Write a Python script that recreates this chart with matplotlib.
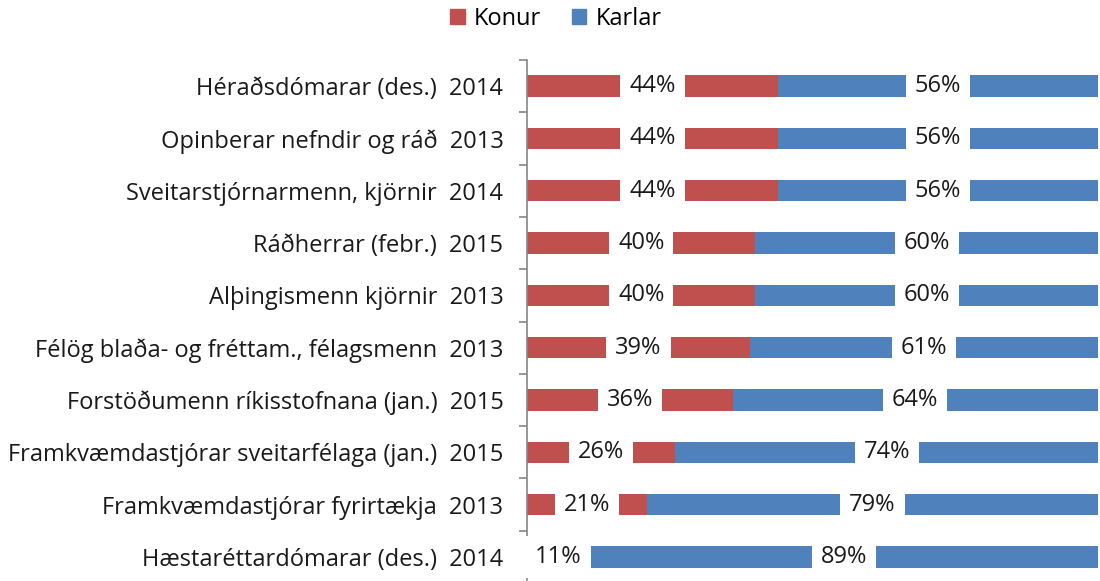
import numpy as np
import matplotlib.pyplot as plt
from matplotlib.patches import Patch

plt.rcParams['font.family'] = ['Open Sans', 'DejaVu Sans']

# Categories top to bottom, with year of the figures
categories = [
    "Héraðsdómarar (des.)",
    "Opinberar nefndir og ráð",
    "Sveitarstjórnarmenn, kjörnir",
    "Ráðherrar (febr.)",
    "Alþingismenn kjörnir",
    "Félög blaða- og fréttam., félagsmenn",
    "Forstöðumenn ríkisstofnana (jan.)",
    "Framkvæmdastjórar sveitarfélaga (jan.)",
    "Framkvæmdastjórar fyrirtækja",
    "Hæstaréttardómarar (des.)",
]
years = ["2014", "2013", "2014", "2015", "2013", "2013", "2015", "2015", "2013", "2014"]
konur = [44, 44, 44, 40, 40, 39, 36, 26, 21, 11]
karlar = [56, 56, 56, 60, 60, 61, 64, 74, 79, 89]

red = "#C0504D"
blue = "#4F81BD"
grey = "#868686"
fs = 17

fig = plt.figure(figsize=(11, 5.81), dpi=100)
ax = fig.add_axes([527 / 1100, 0, 571 / 1100, 521 / 581])

y = np.arange(len(categories))
h = 0.41
ax.barh(y, konur, height=h, color=red)
ax.barh(y, karlar, left=konur, height=h, color=blue)

# value labels sit on a white box in the middle of each segment
box = dict(boxstyle="square,pad=0.38", fc="white", ec="none")
for i in range(len(categories)):
    ax.text(konur[i] / 2, y[i], f"{konur[i]}%", ha="center", va="center",
            fontsize=fs, color="#1a1a1a", bbox=box)
    ax.text(konur[i] + karlar[i] / 2, y[i], f"{karlar[i]}%", ha="center",
            va="center", fontsize=fs, color="#1a1a1a", bbox=box)

ax.set_xlim(0, 100)
ax.set_ylim(9.46, -0.5)
ax.set_yticks(y)
ax.set_yticklabels([f"{c}  {yr}" for c, yr in zip(categories, years)],
                   fontsize=fs, color="#1a1a1a")
ax.set_yticks(np.arange(-0.5, 9.5, 1), minor=True)
ax.tick_params(axis="y", which="major", length=0, pad=17)
ax.tick_params(axis="y", which="minor", length=5.8, width=1.2, color=grey)
ax.set_xticks([])
for s in ["top", "right", "bottom"]:
    ax.spines[s].set_visible(False)
ax.spines["left"].set_color(grey)
ax.spines["left"].set_linewidth(1.2)

handles = [Patch(color=red, label="Konur"), Patch(color=blue, label="Karlar")]
fig.legend(handles=handles, loc="center", bbox_to_anchor=(556 / 1100, 1 - 19 / 581),
           ncol=2, frameon=False, fontsize=fs, handlelength=0.6, handleheight=0.6,
           handletextpad=0.4, columnspacing=1.3)

fig.savefig("out.png", dpi=100)
